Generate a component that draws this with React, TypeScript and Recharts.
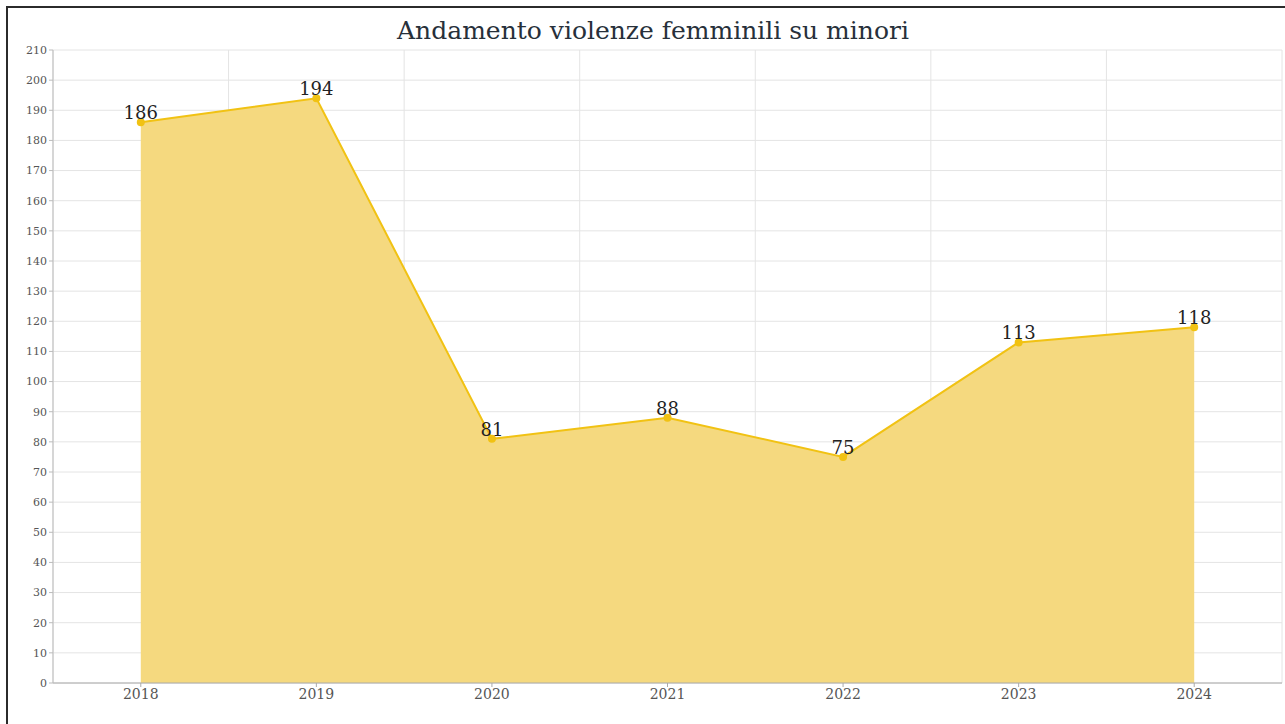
import { AreaChart, Area, XAxis, YAxis, CartesianGrid, LabelList } from "recharts"

const years = ["2018", "2019", "2020", "2021", "2022", "2023", "2024"]
const violenze = [186, 194, 81, 88, 75, 113, 118]
const yTicks = [0, 10, 20, 30, 40, 50, 60, 70, 80, 90, 100, 110, 120, 130, 140, 150, 160, 170, 180, 190, 200, 210]

const data = years.map((year, i) => ({ year, valore: violenze[i] }))

const FONT = "'DejaVu Serif', 'Liberation Serif', serif"

// grid lines sit on the band edges, not on the category centres
function bandEdges({ offset }: any) {
  const step = offset.width / years.length
  const out: number[] = []
  for (let i = 0; i <= years.length; i++) out.push(offset.left + step * i)
  return out
}

export default function App() {
  return (
    <div
      style={{
        position: "absolute",
        left: 6,
        top: 6,
        width: 1279,
        height: 718,
        borderTop: "2px solid #2b2b2b",
        borderLeft: "2px solid #2b2b2b",
        background: "#fff",
      }}
    >
      <div
        style={{
          position: "absolute",
          left: 0,
          top: 8,
          width: 1290,
          textAlign: "center",
          fontFamily: FONT,
          fontSize: 25,
          color: "#27303a",
        }}
      >
        Andamento violenze femminili su minori
      </div>
      <AreaChart
        width={1277}
        height={716}
        data={data}
        margin={{ top: 42, right: 3, left: 0, bottom: 11 }}
      >
        <CartesianGrid stroke="#e4e4e4" verticalCoordinatesGenerator={bandEdges} />
        <XAxis
          dataKey="year"
          scale="band"
          height={30}
          stroke="#aaa"
          tick={{ fontSize: 14, fill: "#555", fontFamily: FONT }}
          tickSize={4}
        />
        <YAxis
          width={45}
          domain={[0, 210]}
          ticks={yTicks}
          interval={0}
          stroke="#bbb"
          tick={{ fontSize: 11, fill: "#555", fontFamily: FONT }}
          tickSize={4}
        />
        <Area
          type="linear"
          dataKey="valore"
          stroke="#f1c213"
          strokeWidth={2}
          fill="#f5d97f"
          fillOpacity={1}
          dot={{ r: 3, fill: "#f1c213", stroke: "#f1c213" }}
          isAnimationActive={false}
        >
          <LabelList
            dataKey="valore"
            position="top"
            offset={3}
            style={{ fontSize: 18, fill: "#222", fontFamily: FONT }}
          />
        </Area>
      </AreaChart>
    </div>
  )
}
